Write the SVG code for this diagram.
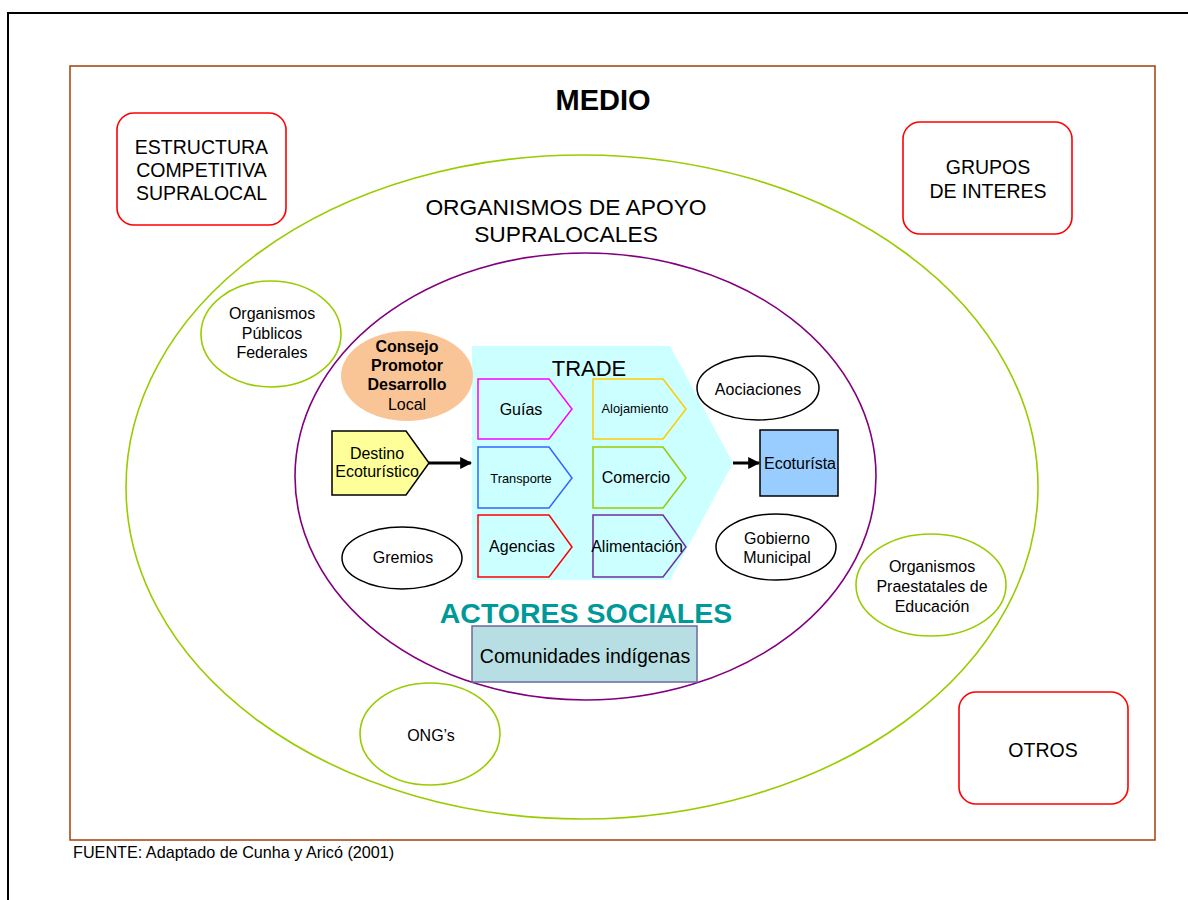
<svg xmlns="http://www.w3.org/2000/svg" width="1188" height="900" viewBox="0 0 1188 900">
<defs>
<style>
text{font-family:"Liberation Sans",Arial,sans-serif;fill:#000;text-anchor:middle}
.b{font-weight:bold}
.red{fill:#fff;stroke:#ff0000;stroke-width:1.6}
.grn{fill:#fff;stroke:#99cc00;stroke-width:1.6}
.blk{fill:#fff;stroke:#000;stroke-width:1.5}
.pent{fill:#ccffff;stroke-width:1.5}
.t16{font-size:16px}
.t19{font-size:19.5px}
.t13{font-size:12.8px}
.conn{stroke:#000;stroke-width:3;fill:none}
</style>
<marker id="ah" markerWidth="4" markerHeight="4" refX="3.6" refY="2" orient="auto" markerUnits="strokeWidth">
<path d="M0,0 L4,2 L0,4 Z" fill="#000"/>
</marker>
</defs>
<rect x="0" y="0" width="1188" height="900" fill="#fff"/>
<rect id="page-frame" x="8" y="13" width="1200" height="900" fill="none" stroke="#000" stroke-width="2"/>
<g id="medio">
<rect x="70" y="66" width="1085" height="774" fill="none" stroke="#a0400a" stroke-width="1.5"/>
<text x="603" y="110" class="b" font-size="29">MEDIO</text>
</g>
<g id="organismos-apoyo">
<ellipse cx="582" cy="487" rx="456" ry="332" fill="none" stroke="#99cc00" stroke-width="1.6"/>
<text x="566" y="215" font-size="22.8">ORGANISMOS DE APOYO</text>
<text x="566" y="242" font-size="22.8">SUPRALOCALES</text>
</g>
<g id="actores-sociales">
<ellipse cx="585.5" cy="476.5" rx="290.5" ry="223.5" fill="none" stroke="#800080" stroke-width="1.6"/>
<text x="586" y="623" class="b" font-size="28.5" style="fill:#009999">ACTORES SOCIALES</text>
</g>
<g id="estructura">
<rect class="red" x="117" y="113" width="169" height="112" rx="17"/>
<text class="t19" x="201.5" y="154">ESTRUCTURA</text>
<text class="t19" x="201.5" y="177">COMPETITIVA</text>
<text class="t19" x="201.5" y="200">SUPRALOCAL</text>
</g>
<g id="grupos">
<rect class="red" x="903" y="122" width="169" height="112" rx="17"/>
<text class="t19" x="988" y="174">GRUPOS</text>
<text class="t19" x="988" y="198">DE INTERES</text>
</g>
<g id="otros">
<rect class="red" x="959" y="692" width="169" height="112" rx="17"/>
<text class="t19" x="1043" y="757">OTROS</text>
</g>
<g id="org-publicos">
<ellipse class="grn" cx="271" cy="334" rx="70" ry="53"/>
<text class="t16" x="272" y="319">Organismos</text>
<text class="t16" x="272" y="339">Públicos</text>
<text class="t16" x="272" y="358">Federales</text>
</g>
<g id="org-praestatales">
<ellipse class="grn" cx="931" cy="585" rx="75" ry="51"/>
<text class="t16" x="932" y="572">Organismos</text>
<text class="t16" x="932" y="592">Praestatales de</text>
<text class="t16" x="932" y="612">Educación</text>
</g>
<g id="ongs">
<ellipse class="grn" cx="430" cy="734" rx="70" ry="51"/>
<text class="t16" x="431" y="741">ONG’s</text>
</g>
<g id="trade">
<polygon points="472,346 670,346 733,463 670,580 472,580" fill="#ccffff"/>
<text x="589" y="376" font-size="22">TRADE</text>
</g>
<g id="consejo">
<ellipse cx="407" cy="376" rx="66" ry="45" fill="#fac596"/>
<text class="t16 b" x="407" y="352">Consejo</text>
<text class="t16 b" x="407" y="371">Promotor</text>
<text class="t16 b" x="407" y="390">Desarrollo</text>
<text class="t16" x="407" y="410">Local</text>
</g>
<g id="destino">
<polygon points="332,431 406,431 429,463 406,495 332,495" fill="#ffff99" stroke="#000" stroke-width="1.5"/>
<text class="t16" x="377" y="459">Destino</text>
<text class="t16" x="377" y="477">Ecoturístico</text>
</g>
<g id="guias">
<polygon class="pent" points="478,379 549,379 572,409 549,439 478,439" stroke="#ff00ff"/>
<text class="t16" x="521" y="415">Guías</text>
</g>
<g id="alojamiento">
<polygon class="pent" points="593,379 663,379 686,409 663,439 593,439" stroke="#ffcc00"/>
<text class="t13" x="635" y="413">Alojamiento</text>
</g>
<g id="transporte">
<polygon class="pent" points="478,447 549,447 572,478 549,508 478,508" stroke="#3366ff"/>
<text class="t13" x="521" y="483">Transporte</text>
</g>
<g id="comercio">
<polygon class="pent" points="593,447 663,447 686,478 663,508 593,508" stroke="#99cc00"/>
<text class="t16" x="636" y="483">Comercio</text>
</g>
<g id="agencias">
<polygon class="pent" points="478,515 549,515 572,547 549,577 478,577" stroke="#ff0000"/>
<text class="t16" x="522" y="552">Agencias</text>
</g>
<g id="alimentacion">
<polygon class="pent" points="593,515 663,515 686,547 663,577 593,577" stroke="#7030a0"/>
<text class="t16" x="637" y="552">Alimentación</text>
</g>
<g id="gremios">
<ellipse class="blk" cx="402" cy="558" rx="60" ry="31"/>
<text class="t16" x="403" y="563">Gremios</text>
</g>
<g id="aociaciones">
<ellipse class="blk" cx="758" cy="388" rx="61" ry="32"/>
<text class="t16" x="758" y="395">Aociaciones</text>
</g>
<g id="gobierno">
<ellipse class="blk" cx="776" cy="547" rx="60" ry="33"/>
<text class="t16" x="777" y="544">Gobierno</text>
<text class="t16" x="777" y="563">Municipal</text>
</g>
<g id="ecoturista">
<rect x="760" y="430" width="78" height="66" fill="#99ccff" stroke="#000" stroke-width="1.5"/>
<text class="t16" x="800" y="469">Ecoturísta</text>
</g>
<g id="comunidades">
<rect x="472" y="626" width="225" height="56" fill="#b7dfe3" stroke="#6a6aa0" stroke-width="1.5"/>
<text x="585" y="663" font-size="19.5">Comunidades indígenas</text>
</g>
<g id="connectors">
<line class="conn" x1="429" y1="463" x2="471" y2="463" marker-end="url(#ah)"/>
<line class="conn" x1="733" y1="463" x2="759" y2="463" marker-end="url(#ah)"/>
</g>
<g id="fuente">
<text x="73" y="858" font-size="16.2" style="text-anchor:start">FUENTE: Adaptado de Cunha y Aricó (2001)</text>
</g>
</svg>
